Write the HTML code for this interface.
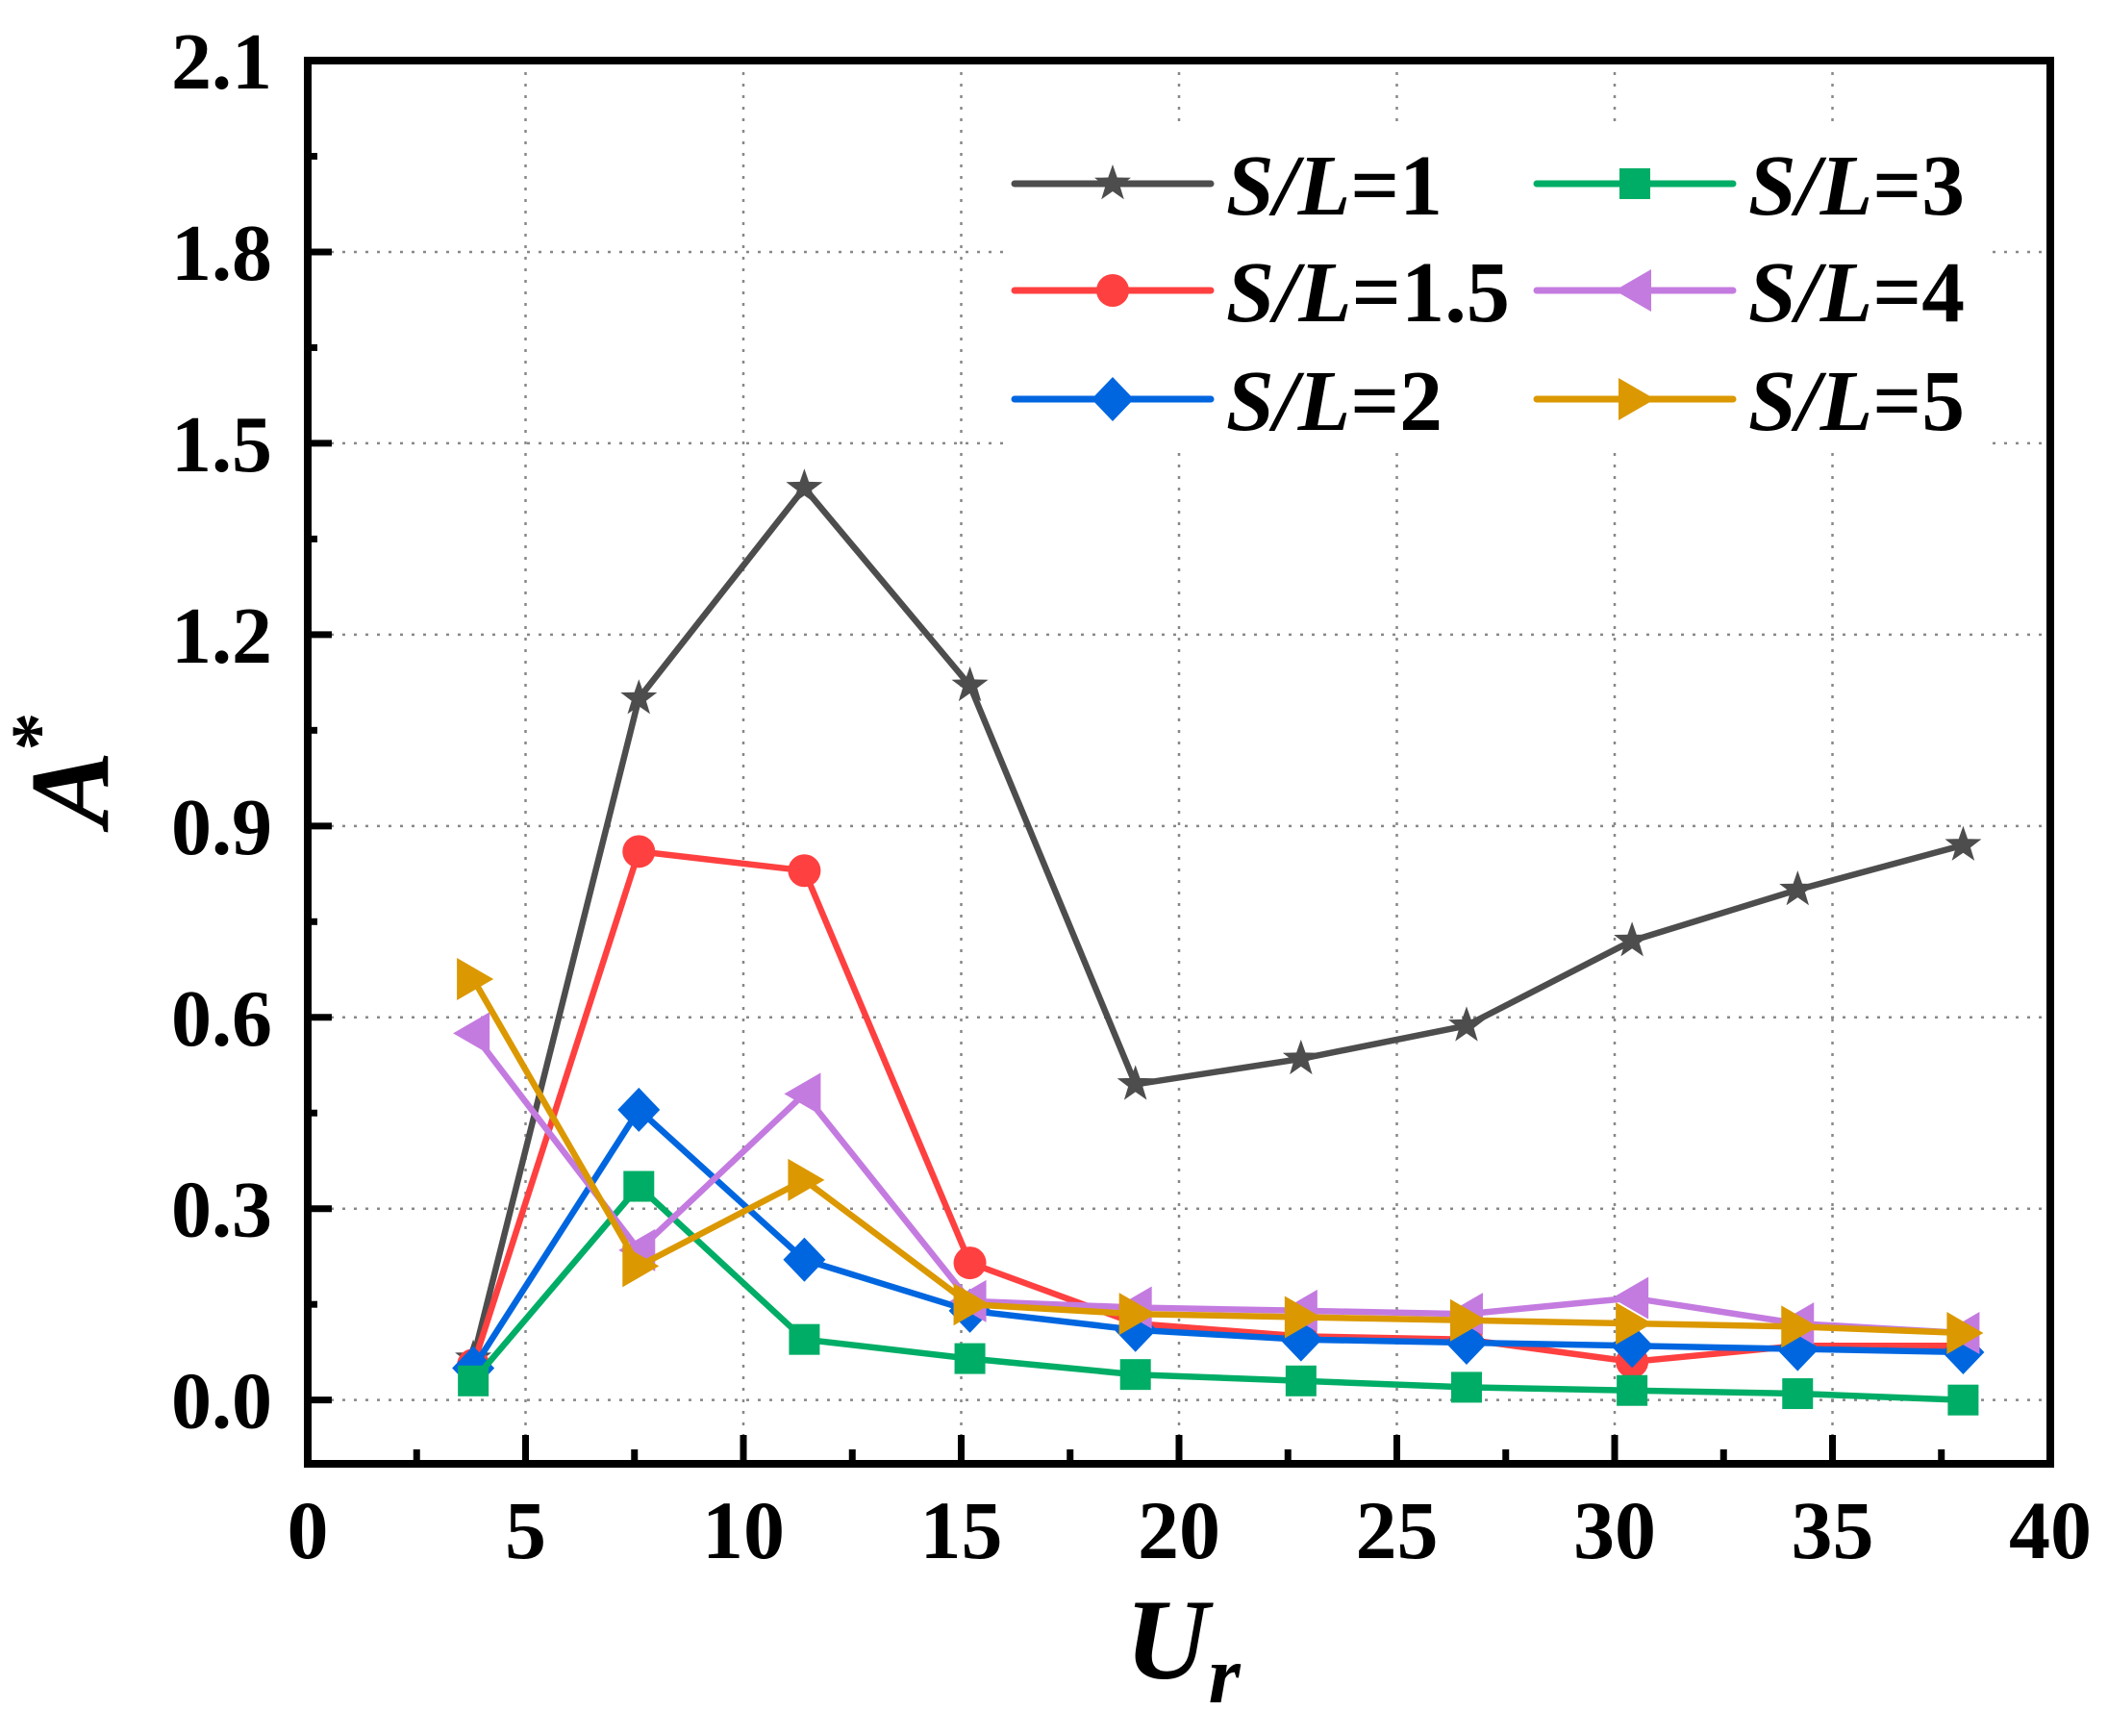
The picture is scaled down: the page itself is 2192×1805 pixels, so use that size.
<!DOCTYPE html>
<html><head><meta charset="utf-8"><style>
html,body{margin:0;padding:0;background:#fff;}
svg{display:block;font-family:"Liberation Serif",serif;}
svg text{font-family:"Liberation Serif",serif;font-weight:bold;fill:#000;}
</style></head><body>
<svg id="chart" width="2192" height="1805" viewBox="0 0 2192 1805" xmlns="http://www.w3.org/2000/svg" font-family="Liberation Serif, serif">
<rect x="0" y="0" width="2192" height="1805" fill="#fff"/>
<g id="grid"></g>
<g id="legend-bg-layer"></g>
<g id="series"></g>
<g id="axes"></g>
<g id="legend"></g>
<text x="112" y="800" font-family="Liberation Serif, serif" font-weight="bold" font-size="118" font-style="italic" text-anchor="middle" transform="rotate(-90 112 800)">A<tspan dy="-45" font-size="80" font-style="normal">*</tspan></text>
<text x="1170" y="1745" font-family="Liberation Serif, serif" font-weight="bold" font-size="120" font-style="italic">U<tspan dy="25" font-size="85">r</tspan></text>
</svg>
<script>
const categories = [3.8, 7.6, 11.4, 15.2, 19.0, 22.8, 26.6, 30.4, 34.2, 38.0];
const sl1  = [0.065, 1.10, 1.43, 1.12, 0.495, 0.535, 0.587, 0.72, 0.80, 0.87];
const sl15 = [0.055, 0.86, 0.83, 0.215, 0.12, 0.10, 0.095, 0.06, 0.085, 0.085];
const sl2  = [0.05, 0.455, 0.22, 0.14, 0.11, 0.095, 0.09, 0.085, 0.08, 0.075];
const sl3  = [0.03, 0.335, 0.095, 0.065, 0.04, 0.03, 0.02, 0.015, 0.01, 0.0];
const sl4  = [0.575, 0.235, 0.48, 0.155, 0.145, 0.14, 0.135, 0.16, 0.12, 0.105];
const sl5  = [0.66, 0.21, 0.345, 0.15, 0.135, 0.13, 0.125, 0.12, 0.115, 0.105];
const seriesLabels = ["1", "1.5", "2", "3", "4", "5"];
const xTickLabels = ["0","5","10","15","20","25","30","35","40"];
const yTickLabels = ["0.0","0.3","0.6","0.9","1.2","1.5","1.8","2.1"];

const NS = "http://www.w3.org/2000/svg";
const FF = "Liberation Serif, serif";
const X0 = 320, X1 = 2132, XMIN = 0, XMAX = 40;
const YB = 1522, YT = 63, YMIN = -0.1, YMAX = 2.1;
function xs(v){ return X0 + (v - XMIN) / (XMAX - XMIN) * (X1 - X0); }
function ys(v){ return YB - (v - YMIN) / (YMAX - YMIN) * (YB - YT); }
function mk(tag, attrs, parent){
  const e = document.createElementNS(NS, tag);
  for (const k in attrs) e.setAttribute(k, attrs[k]);
  parent.appendChild(e);
  return e;
}
const grid = document.getElementById('grid');
const axes = document.getElementById('axes');
const seriesG = document.getElementById('series');
const legend = document.getElementById('legend');
const lbg = document.getElementById('legend-bg-layer');

xTickLabels.forEach((t) => {
  const v = parseFloat(t);
  if (v <= XMIN || v >= XMAX) return;
  const l = mk('line', {x1: xs(v), x2: xs(v), y1: YT, y2: YB, stroke: '#888', 'stroke-width': 2.5, 'stroke-dasharray': '3 9'}, grid);
  
  
});
yTickLabels.forEach((t) => {
  const v = parseFloat(t);
  if (v >= YMAX) return;
  const l = mk('line', {x1: X0, x2: X1, y1: ys(v), y2: ys(v), stroke: '#888', 'stroke-width': 2.5, 'stroke-dasharray': '3 9'}, grid);
  
  
});
const bgr = mk('rect', {x: 1045, y: 130, width: 1022, height: 340, fill: '#fff'}, lbg);



const frame = mk('rect', {x: X0, y: YT, width: X1 - X0, height: YB - YT, fill: 'none', stroke: '#000', 'stroke-width': 8}, axes);


for (let v = 0; v <= 40; v += 2.5) {
  const major = (v % 5 === 0);
  const len = major ? 30 : 15;
  const t = mk('line', {x1: xs(v), x2: xs(v), y1: YB, y2: YB - len, stroke: '#000', 'stroke-width': 7}, axes);
  
  
}
xTickLabels.forEach((t) => {
  const tx = mk('text', {x: xs(parseFloat(t)), y: 1620, 'font-size': 86, 'font-family': FF, 'font-weight': 'bold', 'text-anchor': 'middle'}, axes);
  tx.textContent = t;
  
  
});
for (let k = 0; k <= 14; k++) {
  const v = -0.15 + k * 0.15;
  if (v < YMIN || v > YMAX + 1e-9) continue;
  const major = (k % 2 === 1);
  const len = major ? 25 : 10;
  const t = mk('line', {x1: X0, x2: X0 + len, y1: ys(v), y2: ys(v), stroke: '#000', 'stroke-width': 7}, axes);
  
  
}
yTickLabels.forEach((t) => {
  const tx = mk('text', {x: 283, y: ys(parseFloat(t)) + 29, 'font-size': 84, 'font-family': FF, 'font-weight': 'bold', 'text-anchor': 'end'}, axes);
  tx.textContent = t;
  
  
});

const colors = ['#4d4d4d', '#ff4040', '#0066e0', '#00ad66', '#c47be0', '#db9800'];
const shapes = ['star', 'circle', 'diamond', 'square', 'tri-left', 'tri-right'];
const allSeries = [sl1, sl15, sl2, sl3, sl4, sl5];

function marker(shape, cx, cy, color, parent){
  let e;
  if (shape === 'circle') e = mk('circle', {cx: cx, cy: cy, r: 17, fill: color}, parent);
  else if (shape === 'square') e = mk('rect', {x: cx - 16, y: cy - 16, width: 32, height: 32, fill: color}, parent);
  else if (shape === 'diamond') e = mk('polygon', {points: `${cx},${cy-23} ${cx+22},${cy} ${cx},${cy+23} ${cx-22},${cy}`, fill: color}, parent);
  else if (shape === 'tri-left') e = mk('polygon', {points: `${cx-21},${cy} ${cx+17},${cy-22} ${cx+17},${cy+22}`, fill: color}, parent);
  else if (shape === 'tri-right') e = mk('polygon', {points: `${cx+21},${cy} ${cx-17},${cy-22} ${cx-17},${cy+22}`, fill: color}, parent);
  else {
    let pts = [];
    for (let i = 0; i < 10; i++) {
      const r = (i % 2 === 0) ? 20 : 8;
      const a = -Math.PI / 2 + i * Math.PI / 5;
      pts.push((cx + r * Math.cos(a)).toFixed(1) + ',' + (cy + r * Math.sin(a)).toFixed(1));
    }
    e = mk('polygon', {points: pts.join(' '), fill: color}, parent);
  }
  return e;
}

allSeries.forEach((vals, si) => {
  const g = mk('g', {}, seriesG);
  
  
  const pts = vals.map((v, i) => xs(categories[i]).toFixed(1) + ',' + ys(v).toFixed(1)).join(' ');
  const pl = mk('polyline', {points: pts, fill: 'none', stroke: colors[si], 'stroke-width': 6.5, 'stroke-linejoin': 'miter'}, g);
  
  
  vals.forEach((v, i) => {
    const m = marker(shapes[si], xs(categories[i]), ys(v), colors[si], g);
    
    
  });
});

const legX = [1055, 1598], legY = [191, 302, 415];
seriesLabels.forEach((lab, i) => {
  const col = Math.floor(i / 3), row = i % 3;
  const g = mk('g', {}, legend);
  
  
  const x = legX[col], y = legY[row];
  const ln = mk('line', {x1: x, x2: x + 204, y1: y, y2: y, stroke: colors[i], 'stroke-width': 7, 'stroke-linecap': 'round'}, g);
  
  
  const m = marker(shapes[i], x + 102, y, colors[i], g);
  
  
  const t = mk('text', {x: x + 220, y: y + 32, 'font-size': 90, 'font-family': FF, 'font-weight': 'bold'}, g);
  
  
  t.setAttribute('textLength', lab.length === 3 ? 295 : 225);
  t.setAttribute('lengthAdjust', 'spacingAndGlyphs');
  t.innerHTML = '<tspan font-style="italic">S/L</tspan>=' + lab;
});
</script>
</body></html>
